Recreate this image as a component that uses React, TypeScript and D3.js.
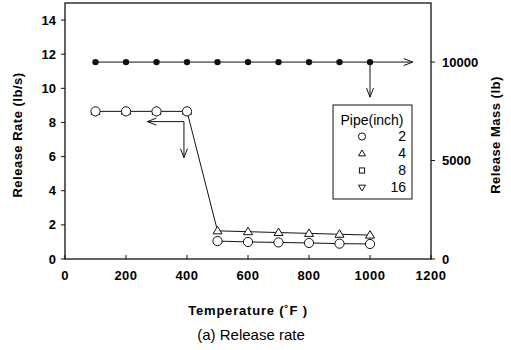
import React from "react";
import * as d3 from "d3";

const temps = [100, 200, 300, 400, 500, 600, 700, 800, 900, 1000];
const rate2 = [8.65, 8.65, 8.65, 8.65, 1.05, 1.0, 0.97, 0.94, 0.9, 0.88];
const rate4 = [8.65, 8.65, 8.65, 8.65, 1.65, 1.6, 1.55, 1.5, 1.45, 1.4];
const mass = [10000, 10000, 10000, 10000, 10000, 10000, 10000, 10000, 10000, 10000];
const xTicks = [0, 200, 400, 600, 800, 1000, 1200];
const yTicks = [0, 2, 4, 6, 8, 10, 12, 14];
const y2Ticks = [0, 5000, 10000];
const legendItems = [
  { shape: "circle", label: "2" },
  { shape: "triangle", label: "4" },
  { shape: "square", label: "8" },
  { shape: "triangleDown", label: "16" },
];

const W = 511, H = 350;
const L = 65, R = 431, T = 3, B = 259;
const x = d3.scaleLinear().domain([0, 1200]).range([L, R]);
const y = d3.scaleLinear().domain([0, 15]).range([B, T]);
const y2 = d3.scaleLinear().domain([0, 13000]).range([B, T]);
const font = "'Liberation Sans', Arial, sans-serif";

function Marker({ shape, cx, cy, s = 1 }: { shape: string; cx: number; cy: number; s?: number }) {
  const common = { fill: "white", stroke: "#111", strokeWidth: 1 };
  if (shape === "circle") return <circle cx={cx} cy={cy} r={4.6 * s} {...common} />;
  if (shape === "square") return <rect x={cx - 3.3 * s} y={cy - 3.3 * s} width={6.6 * s} height={6.6 * s} {...common} />;
  if (shape === "triangle")
    return <path d={`M${cx},${cy - 4.5 * s}L${cx + 4.5 * s},${cy + 3 * s}L${cx - 4.5 * s},${cy + 3 * s}Z`} {...common} />;
  return <path d={`M${cx},${cy + 4.5 * s}L${cx + 4.5 * s},${cy - 3 * s}L${cx - 4.5 * s},${cy - 3 * s}Z`} {...common} />;
}

export default function App() {
  const line = d3.line<number>().x((_, i) => x(temps[i])).y((d) => y(d));
  const line2 = d3.line<number>().defined((_, i) => temps[i] >= 500).x((_, i) => x(temps[i])).y((d) => y(d));
  const massLine = d3.line<number>().x((_, i) => x(temps[i])).y((d) => y2(d));
  const arrowHead = (px: number, py: number, dir: string) => {
    const s = 9, w = 3.5;
    if (dir === "left") return `M${px + s},${py - w}L${px},${py}L${px + s},${py + w}`;
    if (dir === "right") return `M${px - s},${py - w}L${px},${py}L${px - s},${py + w}`;
    return `M${px - w},${py - s}L${px},${py}L${px + w},${py - s}`;
  };
  const ax1 = x(390), ay1 = y(8.05);
  const ax2 = x(1000), ay2 = y2(10000);
  const ly = (i: number) => 136.5 + i * 17;
  return (
    <svg width={W} height={H} style={{ position: "absolute", left: 0, top: 0, background: "white" }}>
      <rect x={L} y={T} width={R - L} height={B - T} fill="none" stroke="#111" strokeWidth={1.3} />
      {yTicks.map((t) => (
        <g key={"y" + t}>
          <line x1={L - 4} x2={L} y1={y(t)} y2={y(t)} stroke="#111" />
          <text x={L - 9} y={y(t)} dy="0.35em" textAnchor="end" fontFamily={font} fontSize={13} fontWeight="bold">{t}</text>
        </g>
      ))}
      {xTicks.map((t) => (
        <g key={"x" + t}>
          <line x1={x(t)} x2={x(t)} y1={B} y2={B - 4} stroke="#111" />
          <text x={x(t)} y={B + 21} textAnchor="middle" fontFamily={font} fontSize={13} fontWeight="bold" letterSpacing={0.5}>{t}</text>
        </g>
      ))}
      {y2Ticks.map((t) => (
        <g key={"r" + t}>
          <line x1={R} x2={R + 4} y1={y2(t)} y2={y2(t)} stroke="#111" />
          <text x={R + 11} y={y2(t)} dy="0.35em" textAnchor="start" fontFamily={font} fontSize={13} fontWeight="bold">{t}</text>
        </g>
      ))}
      <text transform={`translate(22,${(T + B) / 2 + 4}) rotate(-90)`} textAnchor="middle" fontFamily={font} fontSize={13} fontWeight="bold" letterSpacing={0.5}>Release Rate (lb/s)</text>
      <text transform={`translate(500,${(T + B) / 2 + 4}) rotate(-90)`} textAnchor="middle" fontFamily={font} fontSize={13} fontWeight="bold" letterSpacing={0.5}>Release Mass (lb)</text>
      <text x={248} y={315} textAnchor="middle" fontFamily={font} fontSize={13} fontWeight="bold" letterSpacing={0.8}>Temperature (˚F )</text>
      <text x={251} y={340} textAnchor="middle" fontFamily={font} fontSize={15}>(a) Release rate</text>

      <path d={line(rate4) ?? ""} fill="none" stroke="#111" strokeWidth={1} />
      <path d={line2(rate2) ?? ""} fill="none" stroke="#111" strokeWidth={1} />
      <path d={massLine(mass) ?? ""} fill="none" stroke="#111" strokeWidth={1} />
      {rate4.map((v, i) => <Marker key={"t" + i} shape="triangle" cx={x(temps[i])} cy={y(v)} />)}
      {rate2.map((v, i) => <Marker key={"c" + i} shape="circle" cx={x(temps[i])} cy={y(v)} />)}
      {mass.map((v, i) => <circle key={"m" + i} cx={x(temps[i])} cy={y2(v)} r={3.2} fill="#111" />)}

      <g fill="none" stroke="#111" strokeWidth={1}>
        <line x1={ax1} y1={ay1} x2={x(270)} y2={ay1} />
        <path d={arrowHead(x(270), ay1, "left")} />
        <line x1={ax1} y1={ay1} x2={ax1} y2={ay1 + 36} />
        <path d={arrowHead(ax1, ay1 + 36, "down")} />
        <line x1={ax2} y1={ay2} x2={x(1140)} y2={ay2} />
        <path d={arrowHead(x(1140), ay2, "right")} />
        <line x1={ax2} y1={ay2} x2={ax2} y2={ay2 + 35} />
        <path d={arrowHead(ax2, ay2 + 35, "down")} />
      </g>

      <rect x={333} y={105} width={79} height={94} fill="white" stroke="#111" strokeWidth={1} />
      <text x={372} y={120} dy="0.35em" textAnchor="middle" fontFamily={font} fontSize={14}>Pipe(inch)</text>
      {legendItems.map((it, i) => (
        <g key={it.label}>
          <Marker shape={it.shape} cx={362} cy={ly(i)} s={0.78} />
          <text x={406} y={ly(i)} dy="0.35em" textAnchor="end" fontFamily={font} fontSize={14}>{it.label}</text>
        </g>
      ))}
    </svg>
  );
}
